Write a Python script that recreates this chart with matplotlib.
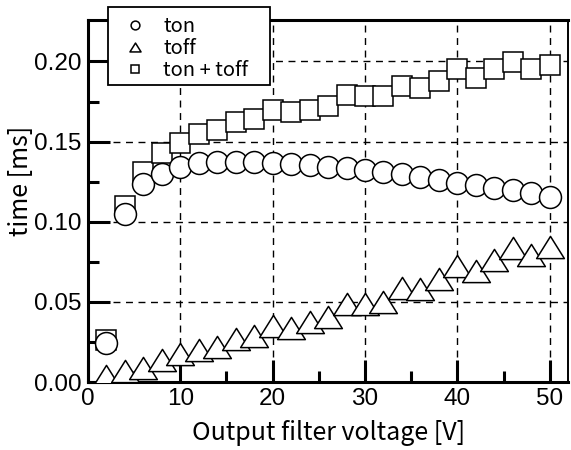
import numpy as np
import matplotlib
matplotlib.use("Agg")
import matplotlib.pyplot as plt
from matplotlib.path import Path
from matplotlib.patches import Rectangle

# output filter voltage [V]
volt = [2, 4, 6, 8, 10, 12, 14, 16, 18, 20, 22, 24, 26, 28, 30,
        32, 34, 36, 38, 40, 42, 44, 46, 48, 50]
# times [ms]
ton = [0.0244, 0.105, 0.1234, 0.130, 0.134, 0.1365, 0.137, 0.137, 0.137, 0.1365,
       0.136, 0.1355, 0.134, 0.1335, 0.132, 0.131, 0.130, 0.128, 0.126, 0.124,
       0.123, 0.121, 0.120, 0.118, 0.1156]
toff = [0.004, 0.0068, 0.009, 0.0139, 0.0174, 0.0203, 0.022, 0.027, 0.029, 0.0347,
        0.034, 0.0373, 0.0403, 0.049, 0.0487, 0.050, 0.0584, 0.058, 0.064, 0.0727,
        0.069, 0.076, 0.0838, 0.079, 0.0844]
ton_toff = [0.026, 0.110, 0.131, 0.143, 0.149, 0.1547, 0.1575, 0.1625, 0.164, 0.1696,
            0.1684, 0.170, 0.172, 0.179, 0.1786, 0.1786, 0.1846, 0.1836, 0.1877, 0.195,
            0.190, 0.195, 0.1996, 0.195, 0.1975]

jp = ['Noto Sans CJK JP', 'DejaVu Sans']
plt.rcParams['font.family'] = ['Liberation Sans', 'DejaVu Sans']

fig = plt.figure(figsize=(5.71, 4.5), dpi=100)
ax = fig.add_axes([0.154, 0.151, 0.841, 0.805])

# wide, flat triangle like the original
tri = Path([(0, 0.8), (-1, -0.8), (1, -0.8), (0, 0.8)], closed=True)
mk = dict(linestyle='none', markerfacecolor='white', markeredgecolor='black',
          markeredgewidth=1.1)
l3, = ax.plot(volt, ton_toff, marker='s', markersize=14.4, zorder=3, label='ton + toff', **mk)
l2, = ax.plot(volt, toff, marker=tri, markersize=20, zorder=4, label='toff', **mk)
l1, = ax.plot(volt, ton, marker='o', markersize=15.8, zorder=5, label='ton', **mk)

ax.set_xlim(0, 52)
ax.set_ylim(0, 0.226)
ax.set_xticks([0, 10, 20, 30, 40, 50])
ax.set_xticks([5, 15, 25, 35, 45], minor=True)
ax.set_yticks([0, 0.05, 0.10, 0.15, 0.20])
ax.set_yticks([0.025, 0.075, 0.125, 0.175], minor=True)
ax.set_yticklabels(['0.00', '0.05', '0.10', '0.15', '0.20'])

ax.tick_params(which='major', direction='in', length=16, width=2.2, labelsize=17.5, pad=4.5)
ax.tick_params(which='minor', direction='in', length=8, width=2.2)

for s in ['left', 'bottom', 'top']:
    ax.spines[s].set_linewidth(2.2)
ax.spines['right'].set_linewidth(1.4)

ax.grid(True, which='major', color='black', linestyle=(0, (5, 4)), linewidth=1.0)
ax.set_axisbelow(True)

ax.set_xlabel('Output filter voltage [V]', fontsize=18, family=jp)
ax.set_ylabel('time [ms]', fontsize=18, family=jp)
ax.xaxis.set_label_coords(0.502, -0.105)
ax.yaxis.set_label_coords(-0.112, 0.555)

# legend box sticks out above the axes
box = Rectangle((0.0417, 0.820), 0.337, 0.216, transform=ax.transAxes,
                facecolor='white', edgecolor='black', linewidth=1.3,
                clip_on=False, zorder=9)
ax.add_patch(box)
leg = ax.legend(handles=[l1, l2, l3], loc='upper left', bbox_to_anchor=(0.042, 1.026),
                borderaxespad=0, markerscale=0.4, prop={'family': jp, 'size': 14.5},
                frameon=False, handlelength=2.1, handletextpad=0.35,
                labelspacing=0.03, borderpad=0.3)
leg.set_zorder(10)

fig.savefig('out.png', dpi=100)
